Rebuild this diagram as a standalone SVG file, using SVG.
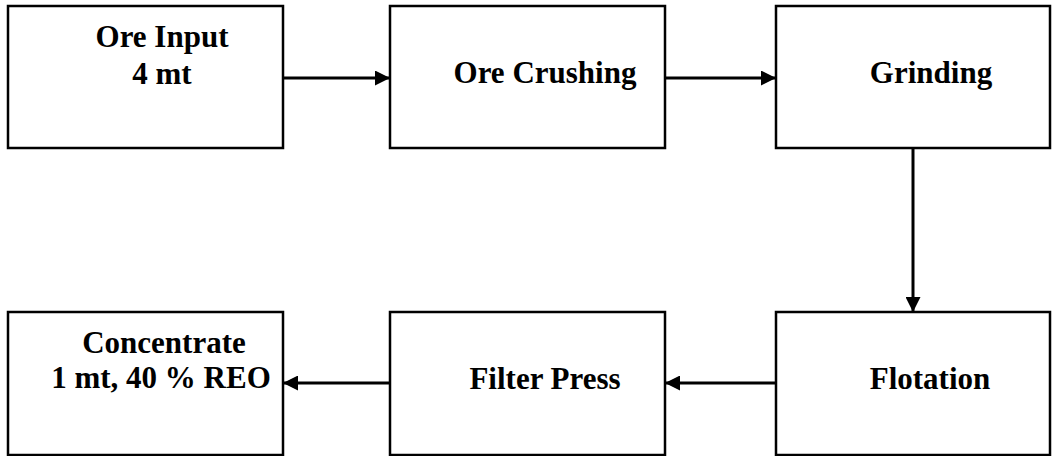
<svg xmlns="http://www.w3.org/2000/svg" width="1053" height="456" viewBox="0 0 1053 456">
<style>
.box{fill:#fff;stroke:#000;stroke-width:2.5}
.c{stroke:#000;stroke-width:3;fill:none}
</style>
<defs>
<marker id="ah" viewBox="0 0 15 15" refX="15" refY="7.5" markerWidth="15" markerHeight="15" markerUnits="userSpaceOnUse" orient="auto">
<path d="M0,0 L15,7.5 L0,15 Z" fill="#000"/>
</marker>
</defs>
<rect width="1053" height="456" fill="#fff"/>
<g id="connectors">
<line class="c" x1="283" y1="78" x2="390" y2="78" marker-end="url(#ah)"/>
<line class="c" x1="665" y1="78" x2="776" y2="78" marker-end="url(#ah)"/>
<line class="c" x1="913" y1="148" x2="913" y2="312" marker-end="url(#ah)"/>
<line class="c" x1="776" y1="383" x2="665" y2="383" marker-end="url(#ah)"/>
<line class="c" x1="390" y1="383" x2="283" y2="383" marker-end="url(#ah)"/>
</g>
<g id="ore-input">
<rect class="box" x="8" y="6" width="275" height="142"/>
<text x="162" y="47" font-family="'Liberation Serif', serif" font-weight="bold" font-size="31" text-anchor="middle">Ore Input</text>
<text x="162" y="84" font-family="'Liberation Serif', serif" font-weight="bold" font-size="31" text-anchor="middle">4 mt</text>
</g>
<g id="ore-crushing">
<rect class="box" x="390" y="6" width="275" height="142"/>
<text x="545" y="83" font-family="'Liberation Serif', serif" font-weight="bold" font-size="31" text-anchor="middle">Ore Crushing</text>
</g>
<g id="grinding">
<rect class="box" x="776" y="6" width="274" height="142"/>
<text x="931" y="83" font-family="'Liberation Serif', serif" font-weight="bold" font-size="31" text-anchor="middle">Grinding</text>
</g>
<g id="flotation">
<rect class="box" x="776" y="312" width="274" height="143"/>
<text x="930" y="389" font-family="'Liberation Serif', serif" font-weight="bold" font-size="31" text-anchor="middle">Flotation</text>
</g>
<g id="filter-press">
<rect class="box" x="390" y="312" width="275" height="143"/>
<text x="545" y="389" font-family="'Liberation Serif', serif" font-weight="bold" font-size="31" text-anchor="middle">Filter Press</text>
</g>
<g id="concentrate">
<rect class="box" x="8" y="312" width="275" height="143"/>
<text x="164" y="353" font-family="'Liberation Serif', serif" font-weight="bold" font-size="31" text-anchor="middle">Concentrate</text>
<text x="161" y="388" font-family="'Liberation Serif', serif" font-weight="bold" font-size="31" text-anchor="middle">1 mt, 40 % REO</text>
</g>
</svg>
